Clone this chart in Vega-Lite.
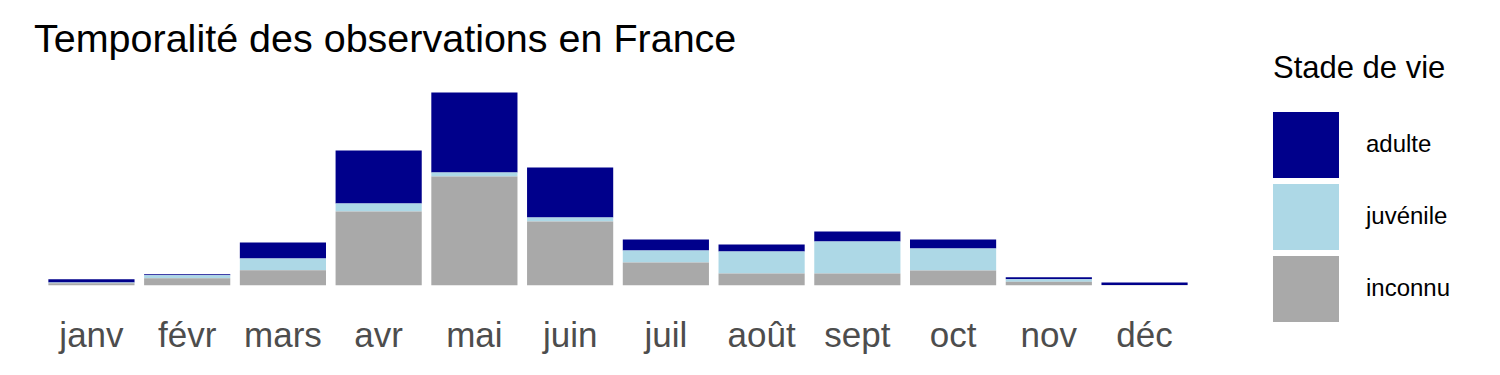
{
  "$schema": "https://vega.github.io/schema/vega-lite/v6.json",
  "autosize": {"type": "none"},
  "width": 1168,
  "height": 202.3,
  "padding": {"left": 34, "top": 83, "right": 298, "bottom": 90},
  "background": "white",
  "title": {
    "text": "Temporalité des observations en France",
    "anchor": "start",
    "frame": "group",
    "font": "Liberation Sans",
    "fontSize": 39.5,
    "fontWeight": "normal",
    "color": "black",
    "offset": 24,
    "dy": 31,
    "dx": 0
  },
  "config": {
    "view": {"stroke": null},
    "font": "Liberation Sans"
  },
  "data": {
    "values": [
      {"mois": "janv", "stade": "adulte", "n": 3.3},
      {"mois": "janv", "stade": "juvénile", "n": 0.7},
      {"mois": "janv", "stade": "inconnu", "n": 2},
      {"mois": "févr", "stade": "adulte", "n": 1},
      {"mois": "févr", "stade": "juvénile", "n": 3},
      {"mois": "févr", "stade": "inconnu", "n": 7},
      {"mois": "mars", "stade": "adulte", "n": 16},
      {"mois": "mars", "stade": "juvénile", "n": 11.7},
      {"mois": "mars", "stade": "inconnu", "n": 15},
      {"mois": "avr", "stade": "adulte", "n": 53},
      {"mois": "avr", "stade": "juvénile", "n": 8},
      {"mois": "avr", "stade": "inconnu", "n": 73.7},
      {"mois": "mai", "stade": "adulte", "n": 80},
      {"mois": "mai", "stade": "juvénile", "n": 4},
      {"mois": "mai", "stade": "inconnu", "n": 108.7},
      {"mois": "juin", "stade": "adulte", "n": 50},
      {"mois": "juin", "stade": "juvénile", "n": 4},
      {"mois": "juin", "stade": "inconnu", "n": 63.7},
      {"mois": "juil", "stade": "adulte", "n": 11},
      {"mois": "juil", "stade": "juvénile", "n": 12},
      {"mois": "juil", "stade": "inconnu", "n": 22.7},
      {"mois": "août", "stade": "adulte", "n": 7},
      {"mois": "août", "stade": "juvénile", "n": 22},
      {"mois": "août", "stade": "inconnu", "n": 11.7},
      {"mois": "sept", "stade": "adulte", "n": 10},
      {"mois": "sept", "stade": "juvénile", "n": 32},
      {"mois": "sept", "stade": "inconnu", "n": 11.7},
      {"mois": "oct", "stade": "adulte", "n": 9},
      {"mois": "oct", "stade": "juvénile", "n": 22},
      {"mois": "oct", "stade": "inconnu", "n": 14.7},
      {"mois": "nov", "stade": "adulte", "n": 2},
      {"mois": "nov", "stade": "juvénile", "n": 2.5},
      {"mois": "nov", "stade": "inconnu", "n": 3.5},
      {"mois": "déc", "stade": "adulte", "n": 2.3},
      {"mois": "déc", "stade": "juvénile", "n": 0.2},
      {"mois": "déc", "stade": "inconnu", "n": 0.2}
    ]
  },
  "transform": [
    {"calculate": "indexof(['inconnu','juvénile','adulte'], datum.stade)", "as": "ordre"}
  ],
  "mark": {"type": "bar"},
  "encoding": {
    "x": {
      "field": "mois",
      "type": "nominal",
      "sort": ["janv", "févr", "mars", "avr", "mai", "juin", "juil", "août", "sept", "oct", "nov", "déc"],
      "scale": {"paddingInner": 0.1, "paddingOuter": 0.15},
      "axis": {
        "title": null,
        "ticks": false,
        "domain": false,
        "grid": false,
        "labelAngle": 0,
        "labelFontSize": 35,
        "labelColor": "#4d4d4d",
        "labelPadding": 33,
        "labelFont": "Liberation Sans"
      }
    },
    "y": {
      "field": "n",
      "type": "quantitative",
      "aggregate": "sum",
      "stack": "zero",
      "scale": {"domain": [0, 202.3], "nice": false},
      "axis": null
    },
    "color": {
      "field": "stade",
      "type": "nominal",
      "scale": {
        "domain": ["adulte", "juvénile", "inconnu"],
        "range": ["#00008B", "#ADD8E6", "#A9A9A9"]
      },
      "legend": {
        "title": "Stade de vie",
        "orient": "none",
        "legendX": 1239,
        "legendY": -29,
        "padding": 0,
        "titleFontSize": 31,
        "titleFontWeight": "normal",
        "titleColor": "black",
        "titleFont": "Liberation Sans",
        "titlePadding": 27,
        "labelFontSize": 24,
        "labelColor": "black",
        "labelFont": "Liberation Sans",
        "labelOffset": 27,
        "symbolType": "square",
        "symbolSize": 4356,
        "symbolStrokeWidth": 0,
        "symbolOpacity": 1,
        "rowPadding": 6
      }
    },
    "order": {"field": "ordre", "type": "quantitative"}
  }
}
